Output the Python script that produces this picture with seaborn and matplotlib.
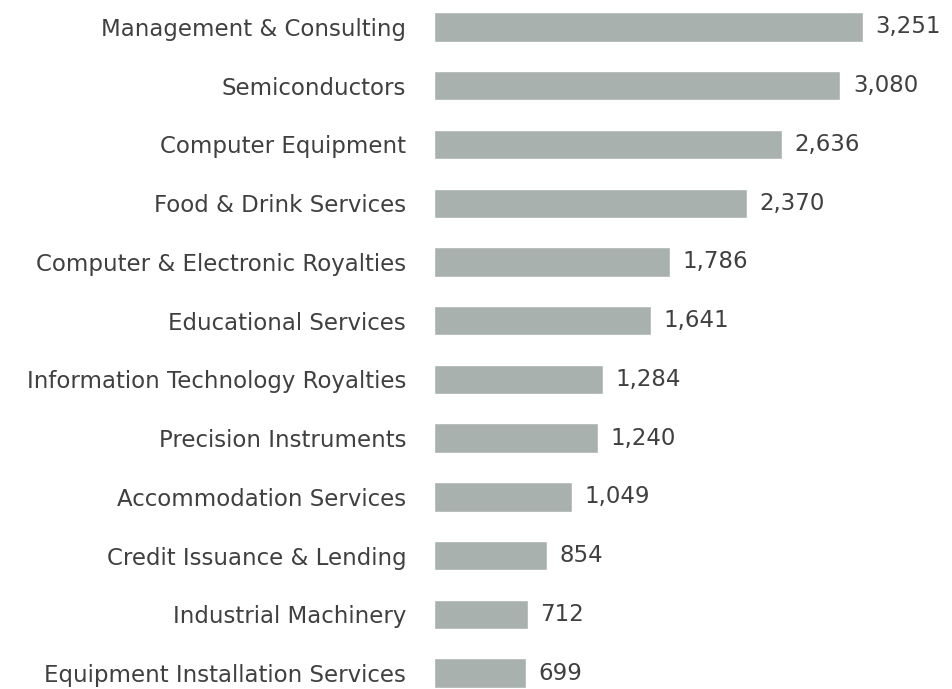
import matplotlib
matplotlib.use("Agg")
import matplotlib.pyplot as plt
import seaborn as sns
import pandas as pd

# Data
categories = [
    "Management & Consulting",
    "Semiconductors",
    "Computer Equipment",
    "Food & Drink Services",
    "Computer & Electronic Royalties",
    "Educational Services",
    "Information Technology Royalties",
    "Precision Instruments",
    "Accommodation Services",
    "Credit Issuance & Lending",
    "Industrial Machinery",
    "Equipment Installation Services",
]
values = [3251, 3080, 2636, 2370, 1786, 1641, 1284, 1240, 1049, 854, 712, 699]

df = pd.DataFrame({"category": categories, "value": values})

sns.set_theme(style="white")
plt.rcParams["font.family"] = ["DejaVu Sans"]

fig = plt.figure(figsize=(9.53, 6.89), dpi=100)
ax = fig.add_axes([434 / 953, 0, 1 - 434 / 953, 1])

sns.barplot(data=df, x="value", y="category", color="#A9B1AF",
            saturation=1, width=0.5, ax=ax)

# row spacing ~58.7px, first row centred at y=27, last at y=673
step = (673 - 27) / 11
ax.set_xlim(0, 3251 * (953 - 434) / (863 - 434))
ax.set_ylim(11 + (689 - 673) / step, -27 / step)

for i, v in enumerate(values):
    ax.annotate(f"{v:,}", xy=(v, i), xytext=(9, 0), textcoords="offset points",
                va="center", ha="left", fontsize=16.5, color="#404040")

ax.set_xlabel("")
ax.set_ylabel("")
ax.set_xticks([])
ax.tick_params(axis="y", length=0, pad=20, labelsize=16.5, labelcolor="#404040")
sns.despine(ax=ax, left=True, bottom=True)

fig.savefig("out.png", dpi=100)
